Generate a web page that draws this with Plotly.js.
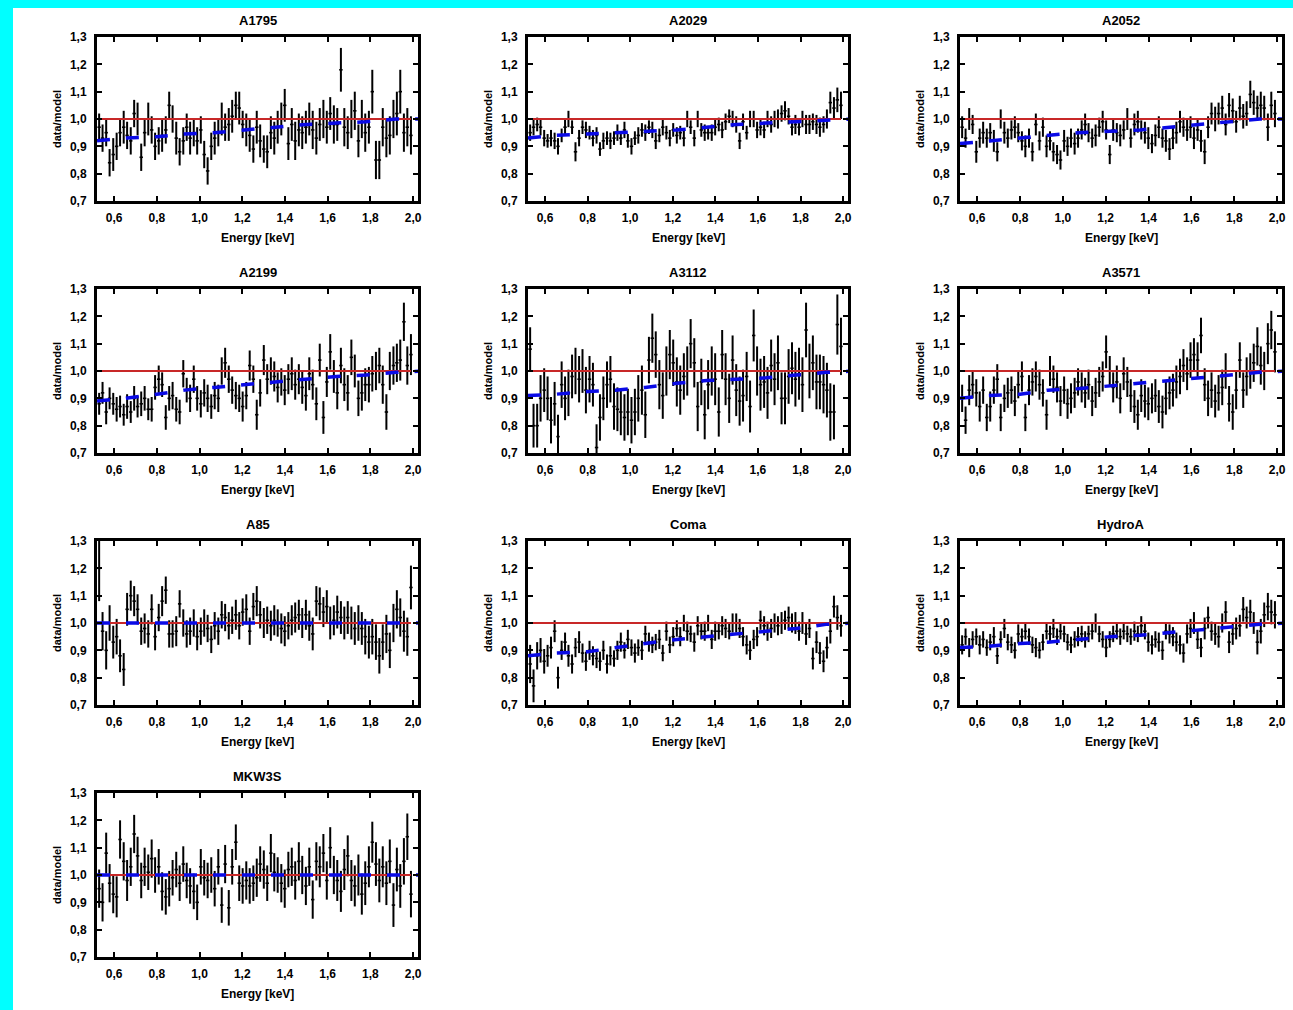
<!DOCTYPE html>
<html><head><meta charset="utf-8">
<script src="https://cdn.plot.ly/plotly-3.0.1.min.js"></script>
<style>
html,body{margin:0;padding:0;background:#00ffff;overflow:hidden;}
#chart{position:absolute;left:13px;top:8px;width:1280px;height:1002px;background:#fff;}
</style></head><body><div id="chart"></div>
<script>
const energy=[0.53,0.546,0.563,0.579,0.596,0.612,0.628,0.645,0.661,0.678,
0.694,0.71,0.727,0.743,0.76,0.776,0.792,0.809,0.825,0.842,
0.858,0.874,0.891,0.907,0.924,0.94,0.956,0.973,0.989,1.006,
1.022,1.038,1.055,1.071,1.088,1.104,1.12,1.137,1.153,1.17,
1.186,1.202,1.219,1.235,1.252,1.268,1.284,1.301,1.317,1.334,
1.35,1.366,1.383,1.399,1.416,1.432,1.448,1.465,1.481,1.498,
1.514,1.53,1.547,1.563,1.58,1.596,1.612,1.629,1.645,1.662,
1.678,1.694,1.711,1.727,1.744,1.76,1.776,1.793,1.809,1.826,
1.842,1.858,1.875,1.891,1.908,1.924,1.94,1.957,1.973,1.99];
const modelEnergy=[0.52,0.65,0.8,0.93,1.07,1.22,1.36,1.5,1.64,1.78,1.92,2.05];
const unityEnergy=[0.52,1.99];
const unityRatio=[1,1];
const clusterNames=['A1795','A2029','A2052','A2199','A3112','A3571','A85','Coma','HydroA','MKW3S'];
const xTickVals=[0.6,0.8,1.0,1.2,1.4,1.6,1.8,2.0];
const yTickVals=[0.7,0.8,0.9,1.0,1.1,1.2,1.3];

const a1795Ratio=[0.97,0.93,0.95,0.84,0.87,0.9,0.95,0.97,0.94,0.92,
1.02,1.0,0.86,0.95,1.0,0.96,0.9,0.92,0.94,0.96,
1.05,1.0,0.93,0.88,0.92,0.97,0.93,0.95,0.92,0.96,
0.87,0.81,0.9,0.93,0.95,1.0,0.97,0.98,1.01,1.05,
1.04,0.98,0.96,0.94,0.89,0.97,0.92,0.89,0.88,0.95,
0.93,0.97,1.0,1.05,0.91,0.98,0.92,0.96,0.95,0.97,
1.0,0.96,0.93,0.98,1.0,0.97,1.02,0.98,0.98,1.18,
0.97,0.95,1.0,1.03,0.92,1.0,0.95,0.97,1.1,0.85,
0.85,0.97,0.93,0.94,1.0,1.02,1.1,0.95,0.97,0.94];
const a1795Err=[0.05,0.05,0.05,0.05,0.06,0.05,0.05,0.06,0.05,0.05,
0.05,0.06,0.05,0.05,0.06,0.05,0.05,0.05,0.06,0.05,
0.05,0.05,0.06,0.05,0.05,0.05,0.06,0.05,0.05,0.05,
0.05,0.05,0.05,0.06,0.05,0.06,0.05,0.06,0.06,0.05,
0.06,0.05,0.06,0.06,0.05,0.06,0.06,0.05,0.06,0.06,
0.06,0.06,0.06,0.06,0.06,0.06,0.07,0.06,0.06,0.06,
0.06,0.07,0.06,0.06,0.07,0.06,0.06,0.07,0.06,0.08,
0.07,0.06,0.07,0.07,0.06,0.07,0.07,0.06,0.08,0.07,
0.07,0.07,0.07,0.07,0.07,0.08,0.08,0.07,0.07,0.07];
const a1795Model=[0.92,0.93,0.935,0.945,0.95,0.96,0.97,0.98,0.985,0.99,1.0,1.0];

const a2029Ratio=[0.95,0.97,0.98,0.97,0.93,0.92,0.93,0.92,0.9,0.94,
0.97,1.0,0.97,0.88,0.93,0.97,0.96,0.95,0.93,0.94,
0.89,0.92,0.93,0.92,0.93,0.95,0.93,0.96,0.92,0.9,
0.93,0.94,0.96,0.95,0.97,0.96,0.92,0.94,0.97,0.95,
0.93,0.96,0.94,0.95,0.93,1.0,0.97,0.93,1.0,0.96,
0.95,0.95,0.95,0.97,0.98,0.96,0.99,1.01,1.0,0.98,
0.92,0.99,0.95,1.0,1.0,0.96,0.97,0.96,1.0,0.98,
1.0,1.0,1.02,1.03,1.01,0.97,0.98,0.97,1.0,0.98,
0.98,0.99,0.98,0.97,0.98,1.0,1.06,1.04,1.07,1.05];
const a2029Err=[0.03,0.03,0.025,0.03,0.03,0.025,0.03,0.03,0.03,0.025,
0.03,0.03,0.025,0.035,0.03,0.025,0.03,0.025,0.03,0.03,
0.025,0.03,0.025,0.03,0.025,0.03,0.025,0.03,0.025,0.03,
0.025,0.03,0.025,0.03,0.025,0.03,0.03,0.025,0.03,0.025,
0.03,0.025,0.03,0.025,0.03,0.03,0.025,0.03,0.03,0.025,
0.03,0.025,0.03,0.03,0.025,0.03,0.03,0.025,0.03,0.03,
0.03,0.03,0.025,0.03,0.03,0.03,0.03,0.03,0.03,0.03,
0.03,0.035,0.03,0.035,0.03,0.03,0.035,0.03,0.03,0.035,
0.035,0.03,0.035,0.035,0.03,0.035,0.04,0.04,0.045,0.05];
const a2029Model=[0.93,0.94,0.945,0.95,0.955,0.96,0.97,0.98,0.985,0.99,0.995,1.0];

const a2052Ratio=[0.97,0.93,1.0,0.98,0.88,0.93,0.95,0.93,0.95,0.92,
0.88,1.0,0.95,0.93,0.96,0.97,0.95,0.92,0.9,0.93,
0.88,0.98,0.92,0.97,0.9,0.92,0.88,0.87,0.85,0.92,
0.9,0.93,0.91,0.93,0.96,0.98,0.95,0.93,0.94,0.97,
0.99,0.96,0.87,0.96,0.95,0.94,0.96,1.0,0.93,0.98,
0.99,0.96,0.95,0.93,0.91,0.94,0.97,0.93,0.92,0.89,
0.93,0.95,0.99,0.97,0.96,0.97,0.93,0.96,0.92,0.88,
0.97,1.02,1.0,1.02,1.04,0.98,1.05,1.03,0.99,1.04,
1.01,1.02,1.09,1.06,1.04,1.05,1.04,0.97,1.05,1.02];
const a2052Err=[0.04,0.035,0.04,0.035,0.04,0.035,0.04,0.035,0.035,0.04,
0.035,0.035,0.04,0.035,0.035,0.04,0.035,0.035,0.04,0.035,
0.035,0.04,0.035,0.035,0.04,0.035,0.035,0.035,0.035,0.04,
0.035,0.035,0.04,0.035,0.035,0.04,0.035,0.035,0.04,0.035,
0.04,0.035,0.035,0.04,0.035,0.04,0.035,0.04,0.035,0.04,
0.04,0.035,0.04,0.04,0.035,0.04,0.04,0.035,0.04,0.04,
0.04,0.04,0.04,0.035,0.04,0.04,0.04,0.04,0.04,0.045,
0.04,0.04,0.045,0.04,0.045,0.04,0.045,0.045,0.04,0.045,
0.045,0.045,0.05,0.045,0.045,0.05,0.045,0.05,0.05,0.05];
const a2052Model=[0.91,0.92,0.93,0.94,0.95,0.955,0.96,0.97,0.98,0.99,1.0,1.0];

const a2199Ratio=[0.88,0.92,0.85,0.9,0.88,0.86,0.87,0.84,0.87,0.85,
0.9,0.87,0.88,0.9,0.86,0.86,0.94,0.97,0.95,0.83,
0.9,0.91,0.86,0.85,0.99,0.93,0.9,0.97,0.9,0.88,
0.92,0.9,0.87,0.91,0.9,1.0,1.03,0.97,0.93,0.91,
0.9,0.87,0.91,1.02,0.97,0.84,0.92,1.04,0.97,1.0,
0.98,0.94,0.96,0.93,0.97,0.99,0.95,0.97,0.94,0.91,
0.99,0.95,0.88,1.04,0.83,0.96,1.07,0.98,0.92,1.02,
0.95,0.92,1.05,1.0,0.9,0.92,0.95,0.95,0.99,1.0,
1.02,0.95,0.85,1.0,1.02,1.03,1.04,1.18,1.02,1.06];
const a2199Err=[0.04,0.04,0.045,0.04,0.04,0.045,0.04,0.04,0.045,0.04,
0.045,0.04,0.045,0.045,0.04,0.045,0.045,0.05,0.045,0.045,
0.045,0.05,0.045,0.045,0.05,0.045,0.05,0.05,0.045,0.05,
0.05,0.05,0.045,0.05,0.05,0.05,0.055,0.05,0.05,0.05,
0.05,0.055,0.05,0.055,0.05,0.055,0.05,0.055,0.055,0.05,
0.055,0.055,0.05,0.055,0.055,0.06,0.055,0.055,0.06,0.055,
0.06,0.055,0.06,0.06,0.06,0.055,0.065,0.06,0.06,0.065,
0.06,0.065,0.065,0.06,0.065,0.065,0.06,0.065,0.065,0.07,
0.065,0.07,0.065,0.07,0.07,0.07,0.075,0.07,0.07,0.075];
const a2199Model=[0.89,0.9,0.915,0.93,0.94,0.95,0.96,0.97,0.98,0.985,0.995,1.0];

const a3112Ratio=[1.08,0.8,0.8,0.9,0.93,0.9,0.82,0.88,0.76,0.95,
0.9,0.92,0.98,1.0,0.97,1.0,0.93,0.97,0.95,0.72,
0.83,0.9,0.95,0.97,0.87,0.86,0.85,0.83,0.85,0.82,
0.85,0.9,0.93,0.84,1.04,1.12,1.06,0.95,0.91,1.0,
1.06,1.03,0.96,0.93,0.98,1.0,1.1,1.03,0.87,0.96,
0.84,0.95,1.0,0.97,0.85,1.06,0.97,0.9,1.04,0.93,
0.89,0.91,0.98,0.87,1.13,1.0,0.95,0.96,0.92,1.02,
0.97,1.03,0.9,0.9,0.98,1.01,0.97,0.99,0.95,1.15,
1.0,1.03,0.96,0.96,0.95,0.93,0.85,0.85,1.17,1.09];
const a3112Err=[0.08,0.08,0.08,0.085,0.08,0.08,0.085,0.08,0.08,0.085,
0.08,0.085,0.08,0.085,0.085,0.08,0.085,0.085,0.08,0.085,
0.085,0.08,0.085,0.085,0.085,0.08,0.085,0.085,0.085,0.085,
0.085,0.085,0.09,0.085,0.085,0.09,0.085,0.09,0.085,0.09,
0.09,0.085,0.09,0.09,0.085,0.09,0.09,0.09,0.09,0.085,
0.09,0.09,0.09,0.095,0.09,0.09,0.095,0.09,0.09,0.095,
0.09,0.095,0.09,0.095,0.095,0.09,0.095,0.095,0.095,0.095,
0.095,0.1,0.095,0.095,0.1,0.095,0.1,0.095,0.1,0.1,
0.1,0.1,0.1,0.1,0.105,0.1,0.105,0.1,0.11,0.105];
const a3112Model=[0.91,0.915,0.925,0.93,0.94,0.955,0.965,0.97,0.975,0.985,0.995,1.0];

const a3571Ratio=[0.9,0.82,0.93,0.95,0.92,0.87,0.93,0.83,0.87,0.93,
0.97,0.83,0.9,0.92,0.93,0.89,0.95,0.98,0.83,0.93,
0.96,0.98,0.95,0.92,0.84,1.0,0.97,0.94,0.89,0.93,
0.88,0.9,0.92,0.96,0.94,0.92,0.95,0.89,0.92,0.96,
0.98,1.07,1.0,0.94,0.96,0.9,0.99,0.96,0.91,0.87,
0.84,0.91,0.89,0.88,0.9,0.91,0.87,0.85,0.9,0.92,
0.93,0.96,0.98,1.02,0.99,1.04,1.06,1.04,1.13,0.95,
0.9,0.93,0.89,0.92,0.94,1.0,0.88,0.85,0.93,1.04,
0.93,0.98,1.0,1.03,1.09,1.02,1.0,1.1,1.15,1.07];
const a3571Err=[0.05,0.05,0.055,0.05,0.05,0.055,0.05,0.05,0.055,0.05,
0.055,0.05,0.05,0.055,0.05,0.055,0.05,0.055,0.05,0.055,
0.05,0.055,0.055,0.05,0.055,0.055,0.05,0.055,0.055,0.05,
0.055,0.055,0.055,0.05,0.055,0.055,0.055,0.055,0.055,0.055,
0.055,0.06,0.055,0.055,0.06,0.055,0.06,0.055,0.06,0.06,
0.055,0.06,0.06,0.06,0.055,0.06,0.06,0.06,0.06,0.06,
0.06,0.06,0.065,0.06,0.06,0.065,0.06,0.065,0.065,0.06,
0.065,0.065,0.06,0.065,0.065,0.065,0.065,0.065,0.07,0.065,
0.065,0.07,0.065,0.07,0.07,0.07,0.07,0.075,0.07,0.075];
const a3571Model=[0.9,0.91,0.915,0.93,0.935,0.945,0.955,0.965,0.975,0.985,0.995,1.0];

const a85Ratio=[1.2,0.97,0.9,1.0,0.93,0.95,0.88,0.83,1.05,1.1,
1.08,1.05,0.97,0.98,0.96,1.05,0.95,1.02,1.08,1.12,
0.96,0.96,0.97,1.07,1.0,0.96,0.97,1.0,0.95,0.97,
1.0,0.98,0.94,0.99,0.97,1.03,1.02,0.99,1.01,1.03,
0.99,1.04,1.05,0.97,1.06,1.08,1.03,1.0,1.01,0.99,
1.01,1.0,0.98,0.97,0.99,1.01,1.02,1.03,1.0,1.03,
0.99,0.96,1.08,1.07,1.04,1.06,1.0,1.01,1.04,1.02,
1.0,1.02,1.0,0.98,1.0,0.98,0.95,0.93,0.95,0.93,
0.88,0.93,0.96,0.9,1.0,1.05,1.02,0.97,0.95,1.13];
const a85Err=[0.12,0.07,0.07,0.065,0.06,0.065,0.06,0.06,0.06,0.055,
0.055,0.055,0.05,0.055,0.05,0.055,0.05,0.05,0.055,0.05,
0.05,0.05,0.055,0.05,0.05,0.05,0.05,0.05,0.05,0.05,
0.05,0.05,0.05,0.05,0.05,0.05,0.05,0.05,0.05,0.055,
0.05,0.05,0.055,0.05,0.05,0.055,0.05,0.055,0.05,0.055,
0.055,0.05,0.055,0.055,0.05,0.055,0.055,0.055,0.055,0.055,
0.055,0.06,0.055,0.06,0.055,0.06,0.06,0.055,0.06,0.06,
0.06,0.06,0.06,0.06,0.065,0.06,0.065,0.06,0.065,0.065,
0.065,0.065,0.07,0.065,0.07,0.07,0.07,0.075,0.07,0.08];
const a85Model=[1.0,1.0,1.0,1.0,1.0,1.0,1.0,1.0,1.0,1.0,1.0,1.0];

const comaRatio=[0.85,0.77,0.88,0.9,0.86,0.88,0.91,0.97,0.8,0.9,
0.93,0.88,0.85,0.91,0.93,0.89,0.86,0.9,0.88,0.87,
0.86,0.9,0.85,0.88,0.87,0.9,0.93,0.9,0.94,0.91,
0.89,0.91,0.9,0.96,0.93,0.92,0.93,0.94,0.89,0.97,
0.92,0.95,0.98,0.95,1.0,0.97,0.96,0.93,0.99,0.97,
0.97,1.0,0.94,0.97,0.97,0.99,0.98,0.97,1.0,1.0,
0.98,0.95,0.92,0.9,0.94,0.95,1.01,0.99,0.97,0.98,
1.0,0.99,1.0,1.01,1.02,1.0,1.0,0.97,1.0,0.96,
0.98,0.87,0.93,0.89,0.86,0.91,0.97,1.06,1.02,0.99];
const comaErr=[0.07,0.06,0.05,0.045,0.045,0.04,0.04,0.04,0.04,0.035,
0.035,0.04,0.035,0.035,0.04,0.035,0.035,0.035,0.035,0.035,
0.035,0.035,0.035,0.035,0.03,0.035,0.035,0.03,0.035,0.03,
0.035,0.03,0.035,0.03,0.035,0.03,0.03,0.035,0.03,0.035,
0.03,0.035,0.03,0.035,0.03,0.035,0.03,0.035,0.035,0.03,
0.035,0.03,0.035,0.035,0.03,0.035,0.035,0.03,0.035,0.035,
0.035,0.035,0.035,0.035,0.035,0.035,0.035,0.035,0.035,0.035,
0.035,0.035,0.04,0.035,0.04,0.035,0.04,0.035,0.04,0.04,
0.035,0.04,0.04,0.04,0.04,0.04,0.045,0.04,0.045,0.04];
const comaModel=[0.88,0.89,0.895,0.91,0.925,0.94,0.95,0.96,0.97,0.98,0.995,1.0];

const hydraRatio=[0.92,0.95,0.91,0.94,0.95,0.92,0.94,0.91,0.93,0.95,
0.88,0.94,0.98,0.93,0.92,0.9,0.96,0.95,0.97,0.95,
0.92,0.91,0.9,0.93,0.97,0.96,0.98,0.95,0.97,0.96,
0.93,0.92,0.94,0.95,0.96,0.94,0.96,0.97,1.0,0.96,
0.94,0.91,0.94,0.96,0.97,0.95,0.97,0.96,0.95,0.97,
0.96,0.99,0.97,0.93,0.92,0.94,0.93,0.9,0.97,0.96,
0.95,0.93,0.92,0.89,0.96,0.98,1.0,0.94,0.91,0.98,
1.02,0.97,0.96,0.95,1.0,1.04,0.93,0.96,0.98,0.99,
1.05,1.02,1.04,1.0,0.93,0.97,1.03,1.06,1.04,1.03];
const hydraErr=[0.035,0.03,0.035,0.03,0.03,0.035,0.03,0.03,0.03,0.035,
0.03,0.03,0.035,0.03,0.03,0.03,0.035,0.03,0.03,0.03,
0.03,0.035,0.03,0.03,0.03,0.03,0.035,0.03,0.03,0.03,
0.03,0.03,0.03,0.035,0.03,0.03,0.03,0.03,0.035,0.03,
0.03,0.035,0.03,0.03,0.03,0.03,0.03,0.03,0.03,0.035,
0.03,0.035,0.03,0.035,0.035,0.03,0.035,0.035,0.03,0.035,
0.035,0.035,0.035,0.035,0.035,0.035,0.04,0.035,0.035,0.04,
0.04,0.035,0.04,0.04,0.035,0.04,0.04,0.04,0.04,0.04,
0.045,0.04,0.045,0.04,0.045,0.045,0.045,0.05,0.045,0.05];
const hydraModel=[0.91,0.915,0.925,0.93,0.94,0.95,0.955,0.965,0.975,0.985,0.995,1.0];

const mkw3sRatio=[0.95,0.9,1.08,0.97,0.93,0.92,1.13,1.05,0.98,1.03,
1.15,1.07,0.98,1.03,1.01,1.06,1.0,1.03,0.94,0.92,
0.95,0.99,1.02,0.97,1.04,0.98,0.96,0.94,0.9,1.03,
0.99,0.98,1.0,0.95,1.03,0.89,1.04,0.88,1.03,1.12,
0.97,0.96,0.98,0.96,0.97,0.99,1.04,1.02,0.97,1.08,
1.01,1.0,0.97,0.95,1.02,1.03,0.98,1.05,1.0,0.96,
1.03,0.91,1.05,1.03,1.08,0.98,1.1,1.0,0.98,0.94,
1.02,1.07,0.98,0.96,1.0,0.93,0.97,1.03,1.12,1.04,
0.98,1.03,0.97,1.05,0.89,1.02,0.96,1.05,1.14,0.93];
const mkw3sErr=[0.07,0.07,0.075,0.07,0.07,0.075,0.07,0.07,0.075,0.07,
0.07,0.07,0.065,0.07,0.065,0.07,0.065,0.065,0.07,0.065,
0.065,0.065,0.065,0.065,0.065,0.065,0.065,0.065,0.065,0.065,
0.065,0.065,0.065,0.065,0.065,0.065,0.07,0.065,0.065,0.065,
0.065,0.065,0.07,0.065,0.065,0.07,0.065,0.07,0.065,0.07,
0.07,0.065,0.07,0.07,0.065,0.07,0.07,0.07,0.07,0.07,
0.07,0.07,0.07,0.075,0.07,0.07,0.075,0.07,0.075,0.075,
0.075,0.075,0.075,0.075,0.075,0.075,0.08,0.075,0.075,0.08,
0.08,0.075,0.08,0.08,0.08,0.08,0.08,0.085,0.085,0.085];
const mkw3sModel=[1.0,1.0,1.0,1.0,1.0,1.0,1.0,1.0,1.0,1.0,1.0,1.0];

const panelRatios=[a1795Ratio,a2029Ratio,a2052Ratio,a2199Ratio,a3112Ratio,a3571Ratio,a85Ratio,comaRatio,hydraRatio,mkw3sRatio];
const panelErrs=[a1795Err,a2029Err,a2052Err,a2199Err,a3112Err,a3571Err,a85Err,comaErr,hydraErr,mkw3sErr];
const panelModels=[a1795Model,a2029Model,a2052Model,a2199Model,a3112Model,a3571Model,a85Model,comaModel,hydraModel,mkw3sModel];

// layout geometry (page pixels)
const W=1280,H=1002,OX=13,OY=8;
const colL=[97,528,960],colR=[418,848,1282];
const rowT=[37,289,541,793],rowB=[201,453,705,957];
const fontFam='"Liberation Sans", Arial, sans-serif';

const traces=[],annotations=[],layout={
  width:W,height:H,margin:{l:0,r:0,t:0,b:0},
  paper_bgcolor:'#ffffff',plot_bgcolor:'#ffffff',
  showlegend:false,separators:',.',
  font:{family:fontFam,color:'#000'}
};
clusterNames.forEach((name,k)=>{
  const r=Math.floor(k/3),c=k%3,n=k+1;
  const xs=n===1?'':String(n);
  const xd=[(colL[c]-OX)/W,(colR[c]-OX)/W];
  const yd=[1-(rowB[r]-OY)/H,1-(rowT[r]-OY)/H];
  const axCommon={showline:true,linewidth:3,linecolor:'#000',mirror:'allticks',
    ticks:'inside',ticklen:5,tickwidth:2,tickcolor:'#000',showgrid:false,zeroline:false,
    tickformat:'.1f',tickfont:{family:fontFam,size:12,weight:'bold',color:'#000'}};
  layout['xaxis'+xs]=Object.assign({},axCommon,{domain:xd,range:[0.52,2.023],anchor:'y'+xs,tickvals:xTickVals,ticklabelstandoff:4});
  layout['yaxis'+xs]=Object.assign({},axCommon,{domain:yd,range:[0.7,1.3],anchor:'x'+xs,tickvals:yTickVals,ticklabelstandoff:5});
  traces.push({type:'scatter',mode:'markers',x:energy,y:panelRatios[k],xaxis:'x'+xs,yaxis:'y'+xs,
    marker:{size:1,color:'#000'},
    error_y:{type:'data',array:panelErrs[k],visible:true,thickness:2,width:0,color:'#000'},
    error_x:{type:'constant',value:0.008,visible:true,thickness:1.6,width:0,color:'#000'},
    hoverinfo:'skip'});
  traces.push({type:'scatter',mode:'lines',x:unityEnergy,y:unityRatio,xaxis:'x'+xs,yaxis:'y'+xs,
    line:{color:'rgb(200,40,40)',width:2},hoverinfo:'skip'});
  traces.push({type:'scatter',mode:'lines',x:modelEnergy,y:panelModels[k],xaxis:'x'+xs,yaxis:'y'+xs,
    line:{color:'rgb(10,10,230)',width:3.5,dash:'13px,16px'},hoverinfo:'skip'});
  const xc=(xd[0]+xd[1])/2,yc=(yd[0]+yd[1])/2;
  annotations.push({text:name,xref:'paper',yref:'paper',x:xc,y:yd[1],xanchor:'center',yanchor:'bottom',
    yshift:7,showarrow:false,font:{family:fontFam,size:13,weight:'bold',color:'#000'}});
  annotations.push({text:'data/model',xref:'paper',yref:'paper',x:xd[0],y:yc,xanchor:'center',yanchor:'middle',
    xshift:-40,textangle:-90,showarrow:false,font:{family:fontFam,size:11,weight:'bold',color:'#000'}});
  annotations.push({text:'Energy [keV]',xref:'paper',yref:'paper',x:xc,y:yd[0],xanchor:'center',yanchor:'middle',
    yshift:-37,showarrow:false,font:{family:fontFam,size:12,weight:'bold',color:'#000'}});
});
layout.annotations=annotations;
Plotly.newPlot('chart',traces,layout,{displayModeBar:false,staticPlot:true});
</script></body></html>
